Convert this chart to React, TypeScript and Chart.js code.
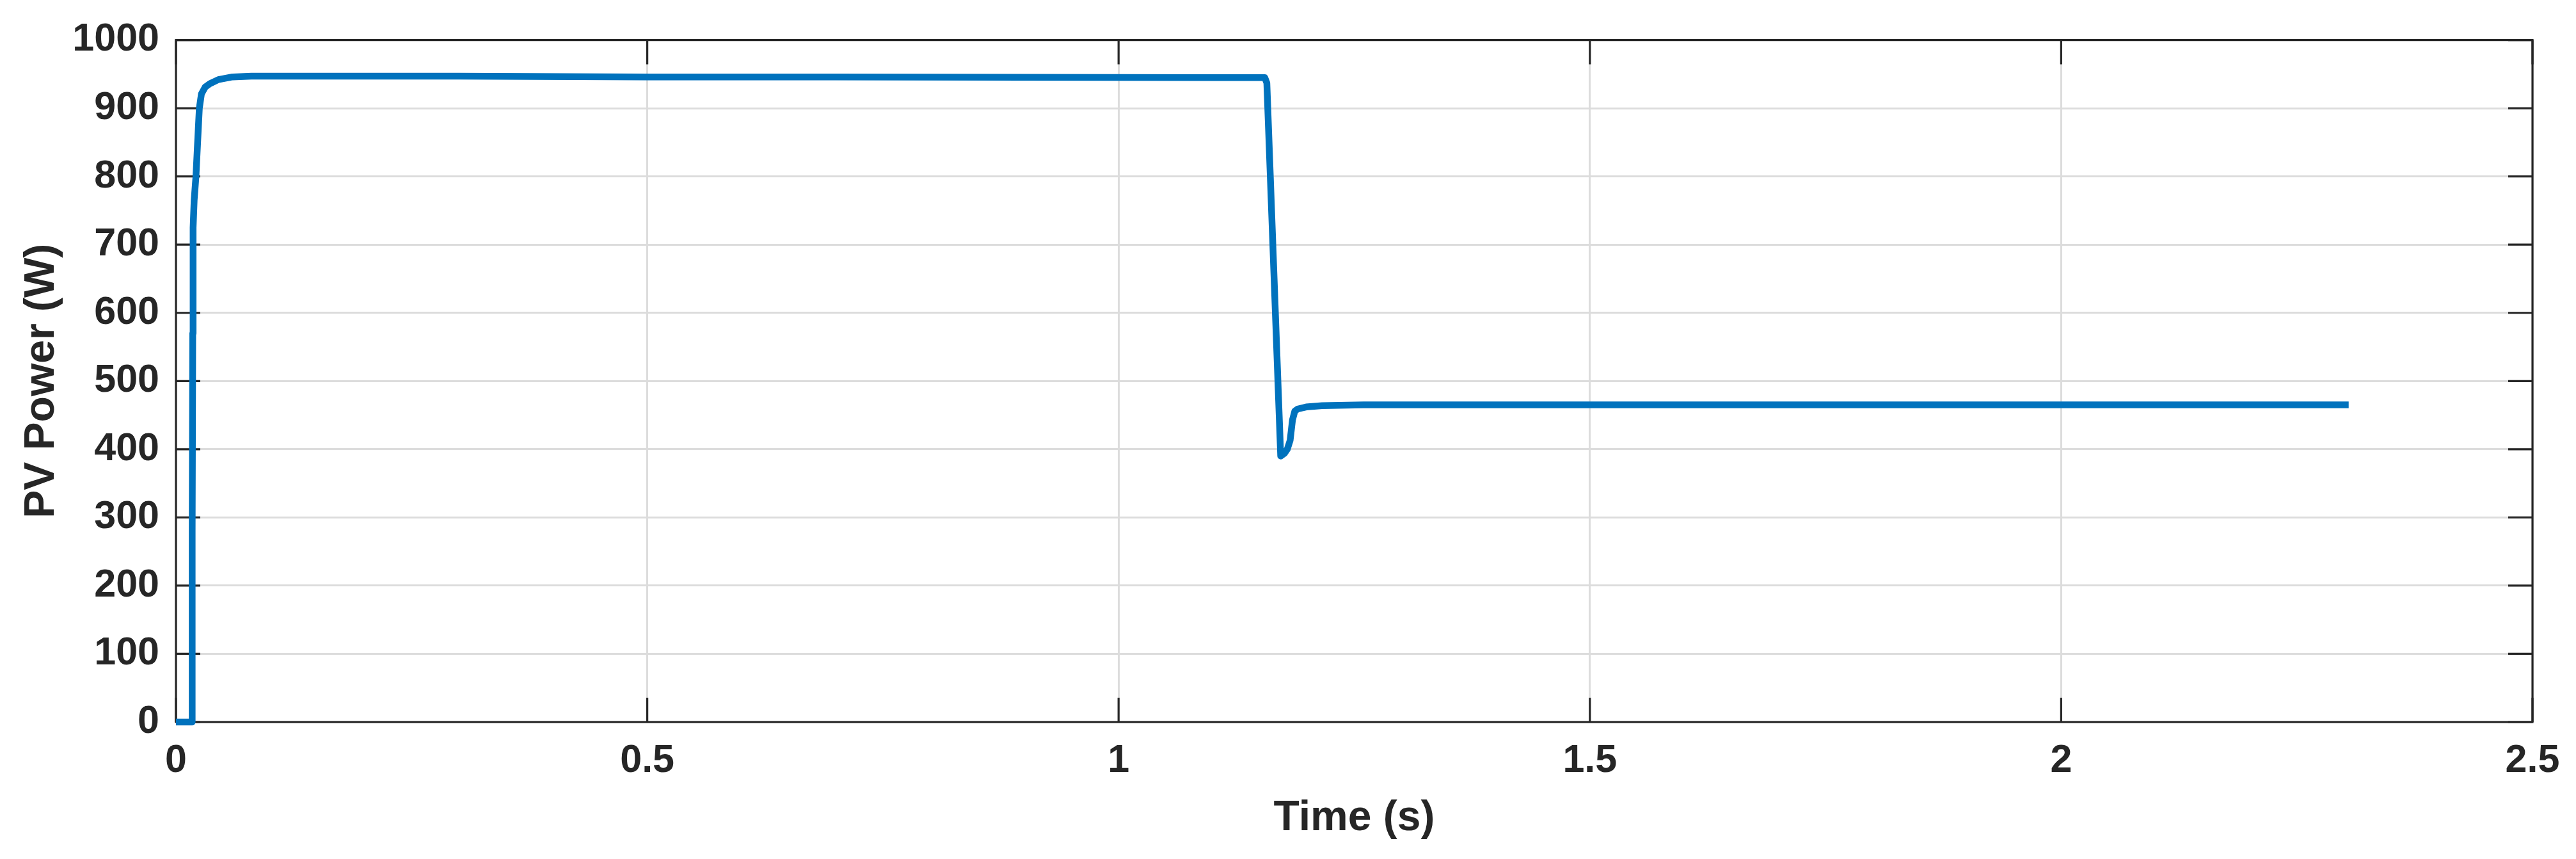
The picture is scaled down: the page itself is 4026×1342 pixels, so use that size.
import React, { useEffect, useRef } from "react";
import { Chart, registerables } from "chart.js";

Chart.register(...registerables);

// Time (s)
const timeS: number[] = [
  0, 0.017, 0.0172, 0.0178, 0.0182, 0.0193, 0.0212, 0.0228, 0.0248, 0.027, 0.031,
  0.036, 0.045, 0.06, 0.08, 0.12, 0.3, 0.5, 0.7, 0.9, 1.1, 1.1551,
  1.1573, 1.172, 1.176, 1.179, 1.182, 1.1845, 1.187, 1.19, 1.199, 1.216,
  1.26, 1.5, 1.8, 2.1, 2.305,
];
// PV Power (W)
const pvPowerW: number[] = [
  0, 0, 280, 570, 725, 765, 800, 845, 900, 921, 931,
  936, 942, 946, 947, 947, 947, 946, 946, 945.5, 945, 945,
  937, 390, 394, 400, 413, 443, 456, 459, 462, 464,
  465, 465, 465, 465, 465,
];

const xTicks: number[] = [0, 0.5, 1, 1.5, 2, 2.5];
const yTicks: number[] = [0, 100, 200, 300, 400, 500, 600, 700, 800, 900, 1000];

const xTitle = "Time (s)";
const yTitle = "PV Power (W)";

const W = 4026;
const H = 1342;
const AXIS_COLOR = "#262626";
const GRID_COLOR = "#dcdcdc";
const LINE_COLOR = "#0072BD";
const FONT = "'Liberation Sans', Arial, Helvetica, sans-serif";

const boxPlugin = {
  id: "matlabBox",
  beforeDatasetsDraw(chart: any) {
    const { ctx, chartArea } = chart;
    const { left, right, top, bottom } = chartArea;
    const xs = chart.scales.x;
    const ys = chart.scales.y;
    const tl = 38;
    ctx.save();
    ctx.strokeStyle = AXIS_COLOR;
    ctx.lineWidth = 3.2;
    ctx.beginPath();
    for (const v of xTicks) {
      const px = xs.getPixelForValue(v);
      ctx.moveTo(px, bottom);
      ctx.lineTo(px, bottom - tl);
      ctx.moveTo(px, top);
      ctx.lineTo(px, top + tl);
    }
    for (const v of yTicks) {
      const py = ys.getPixelForValue(v);
      ctx.moveTo(left, py);
      ctx.lineTo(left + tl, py);
      ctx.moveTo(right, py);
      ctx.lineTo(right - tl, py);
    }
    ctx.stroke();
    ctx.strokeRect(left, top, right - left, bottom - top);
    ctx.restore();
  },
};

export default function App() {
  const ref = useRef<HTMLCanvasElement | null>(null);

  useEffect(() => {
    document.body.style.margin = "0";
    const canvas = ref.current;
    if (!canvas) return;
    const chart = new Chart(canvas, {
      type: "line",
      data: {
        datasets: [
          {
            data: timeS.map((t, i) => ({ x: t, y: pvPowerW[i] })),
            borderColor: LINE_COLOR,
            borderWidth: 10.5,
            pointRadius: 0,
            tension: 0,
            fill: false,
            clip: false as any,
            borderJoinStyle: "round",
          },
        ],
      },
      options: {
        animation: false,
        responsive: false,
        devicePixelRatio: 1,
        layout: { padding: { top: 57, right: 68, left: 0, bottom: 0 } },
        plugins: {
          legend: { display: false },
          tooltip: { enabled: false },
        },
        scales: {
          x: {
            type: "linear",
            min: 0,
            max: 2.5,
            afterFit: (s: any) => {
              s.height = H - 1128;
            },
            afterBuildTicks: (s: any) => {
              s.ticks = xTicks.map((v) => ({ value: v }));
            },
            ticks: {
              color: AXIS_COLOR,
              font: { family: FONT, size: 61, weight: "bold" },
              padding: 25,
              maxRotation: 0,
              callback: (v: any) => String(v),
            },
            grid: {
              color: GRID_COLOR,
              lineWidth: 3,
              drawTicks: false,
            },
            border: { display: false },
            title: {
              display: true,
              text: xTitle,
              color: AXIS_COLOR,
              font: { family: FONT, size: 66, weight: "bold" },
              padding: { top: 0, bottom: 24 },
            },
          },
          y: {
            type: "linear",
            min: 0,
            max: 1000,
            afterFit: (s: any) => {
              s.width = 275;
            },
            afterBuildTicks: (s: any) => {
              s.ticks = yTicks.map((v) => ({ value: v }));
            },
            ticks: {
              color: AXIS_COLOR,
              font: { family: FONT, size: 61, weight: "bold" },
              padding: 26,
              callback: (v: any) => String(v),
            },
            grid: {
              color: GRID_COLOR,
              lineWidth: 3,
              drawTicks: false,
            },
            border: { display: false },
            title: {
              display: true,
              text: yTitle,
              color: AXIS_COLOR,
              font: { family: FONT, size: 66, weight: "bold" },
              padding: { top: 26, bottom: 0 },
            },
          },
        },
      },
      plugins: [boxPlugin],
    });
    return () => chart.destroy();
  }, []);

  return (
    <div style={{ position: "absolute", left: 0, top: 0, width: W, height: H, background: "#fff" }}>
      <canvas ref={ref} width={W} height={H} style={{ width: W, height: H, display: "block" }} />
    </div>
  );
}
